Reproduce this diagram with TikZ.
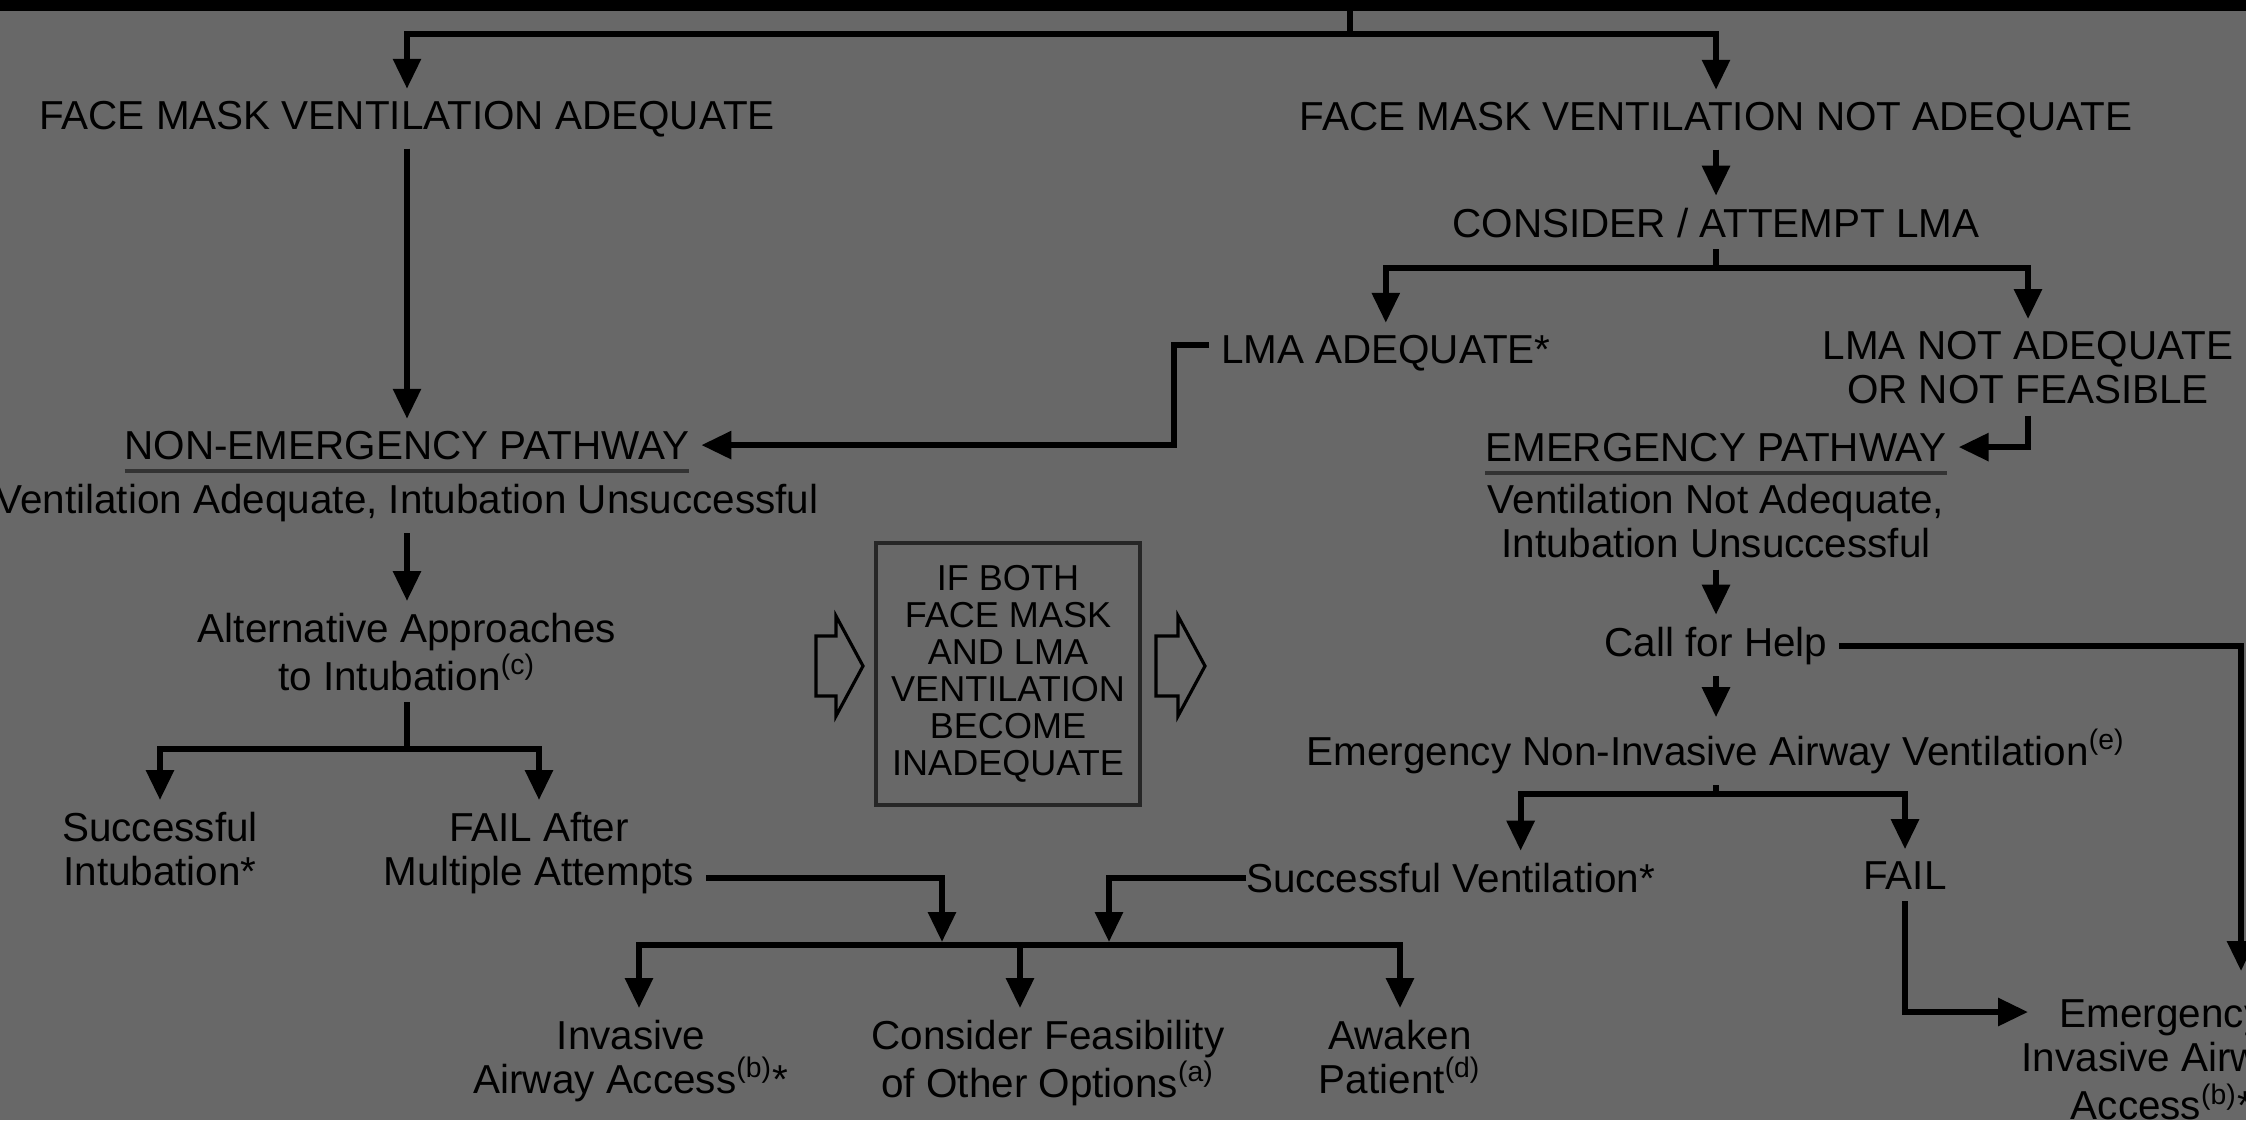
\documentclass[tikz,border=0pt]{standalone}
\usepackage{fontspec}
\setmainfont{Liberation Sans}
\usetikzlibrary{arrows.meta}
\definecolor{scan}{RGB}{104,104,104}
\newcommand{\txtfont}{\fontsize{11.5pt}{12.5pt}\selectfont}
\newcommand{\boxfont}{\fontsize{10.25pt}{10.5pt}\selectfont}
\tikzstyle{txt} = [font=\txtfont, align=center, inner sep=0pt, outer sep=0.12cm]
\tikzstyle{ifbox} = [draw=black!85, line width=1.3pt, font=\boxfont, align=center, minimum width=2.64cm, minimum height=2.62cm]
\tikzstyle{link} = [line width=1.7pt]
\tikzstyle{arrow} = [link, -{Triangle[length=0.3cm, width=0.27cm]}]
\tikzstyle{uline} = [line width=1.1pt, black!80]
\tikzstyle{hollow} = [line width=0.9pt]

\begin{document}
\begin{tikzpicture}[x=0.01cm, y=-0.01cm]

  \useasboundingbox (0,0) rectangle (2246,1120);
  \clip (0,0) rectangle (2246,1120);
  \fill[scan] (0,0) rectangle (2246,1120);
  \fill (0,0) rectangle (2246,11);

  \node (fmva) [txt, anchor=base] at (407,129) {FACE MASK VENTILATION ADEQUATE};
  \node (fmvna) [txt, anchor=base] at (1716,130) {FACE MASK VENTILATION NOT ADEQUATE};
  \node (lmatry) [txt, anchor=base] at (1716,237) {CONSIDER / ATTEMPT LMA};
  \node (lmaok) [txt, anchor=base west] at (1209,363) {LMA ADEQUATE*};
  \node (lmano) [txt, anchor=north] at (2028,319) {LMA NOT ADEQUATE\\OR NOT FEASIBLE};

  \node (nep) [txt, anchor=base] at (407,459) {NON-EMERGENCY PATHWAY};
  \node (nepsub) [txt, anchor=base] at (407,513) {Ventilation Adequate, Intubation Unsuccessful};
  \node (ep) [txt, anchor=base] at (1716,461) {EMERGENCY PATHWAY};
  \node (epsub) [txt, anchor=north] at (1716,472) {Ventilation Not Adequate,\\Intubation Unsuccessful};

  \node (alt) [txt, anchor=north] at (407,601) {Alternative Approaches\\to Intubation\textsuperscript{(c)}};
  \node (intok) [txt, anchor=north] at (160,800) {Successful\\Intubation*};
  \node (intfail) [txt, anchor=north] at (539,800) {FAIL After\\Multiple Attempts};

  \node (ifboth) [ifbox] at (1008,674) {IF BOTH\\FACE MASK\\AND LMA\\VENTILATION\\BECOME\\INADEQUATE};

  \node (help) [txt, anchor=base] at (1716,656) {Call for Help};
  \node (enav) [txt, anchor=base] at (1716,765) {Emergency Non-Invasive Airway Ventilation\textsuperscript{(e)}};
  \node (sucvent) [txt, anchor=base west] at (1234,892) {Successful Ventilation*};
  \node (ventfail) [txt, anchor=base] at (1905,889) {FAIL};

  \node (invasive) [txt, anchor=north] at (631,1008) {Invasive\\Airway Access\textsuperscript{(b)}*};
  \node (options) [txt, anchor=north] at (1048,1008) {Consider Feasibility\\of Other Options\textsuperscript{(a)}};
  \node (awaken) [txt, anchor=north] at (1400,1008) {Awaken\\Patient\textsuperscript{(d)}};
  \node (eia) [txt, anchor=north] at (2162,988) {Emergency\\Invasive Airway\\Access\textsuperscript{(b)}*};

  \coordinate (band) at (1350,11);
  \coordinate (top) at (1350,34);
  \coordinate (lmasplit) at (1716,268);
  \coordinate (altsplit) at (407,749);
  \coordinate (enavsplit) at (1716,794);
  \coordinate (helpright) at (2241,971);
  \coordinate (barin1) at (942,942);
  \coordinate (barin2) at (1109,942);
  \coordinate (barL) at (639,945);
  \coordinate (barM) at (1020,945);
  \coordinate (barR) at (1400,945);
  \coordinate (eiain) at (2028,1012);

  \draw [link] (band) -- (top);
  \draw [arrow] (top) -| (fmva);
  \draw [arrow] (top) -| (fmvna);
  \draw [arrow] (fmva) -- (nep);
  \draw [arrow] (fmvna) -- (lmatry);

  \draw [link] (lmatry) -- (lmasplit);
  \draw [arrow] (lmasplit) -| (lmaok);
  \draw [arrow] (lmasplit) -| (lmano);
  \draw [arrow] ([yshift=0.08cm]lmaok.west) -- ++(-35,0) |- (nep);
  \draw [arrow] (lmano) |- (ep);

  \draw [uline] ([shift={(0.12cm,-0.12cm)}]nep.base west) -- ([shift={(-0.12cm,-0.12cm)}]nep.base east);
  \draw [uline] ([shift={(0.12cm,-0.12cm)}]ep.base west) -- ([shift={(-0.12cm,-0.12cm)}]ep.base east);

  \draw [arrow] (nepsub) -- (alt);
  \draw [link] (alt) -- (altsplit);
  \draw [arrow] (altsplit) -| (intok);
  \draw [arrow] (altsplit) -| (intfail);

  \draw [arrow] (epsub) -- (help);
  \draw [arrow] (help) -- (enav);
  \draw [arrow] (help) -| (helpright);
  \draw [link] (enav) -- (enavsplit);
  \draw [arrow] (enavsplit) -| ([xshift=0.7cm]sucvent.north);
  \draw [arrow] (enavsplit) -| (ventfail);
  \draw [arrow] (ventfail) |- (eiain);

  \draw [arrow] ([yshift=0.28cm]intfail.south east) -| (barin1);
  \draw [arrow] ([xshift=0.12cm]sucvent.west) -| (barin2);
  \draw [arrow] (barM) -| (barL |- invasive.north);
  \draw [arrow] (barM) -- (barM |- options.north);
  \draw [arrow] (barM) -| (barR |- awaken.north);

  \draw [hollow] (816,636) -- ++(20,0) -- ++(0,-20) -- ++(27,50) -- ++(-27,50) -- ++(0,-20) -- ++(-20,0) -- cycle;
  \draw [hollow] (1156,636) -- ++(22,0) -- ++(0,-20) -- ++(27,50) -- ++(-27,50) -- ++(0,-20) -- ++(-22,0) -- cycle;

\end{tikzpicture}
\end{document}
